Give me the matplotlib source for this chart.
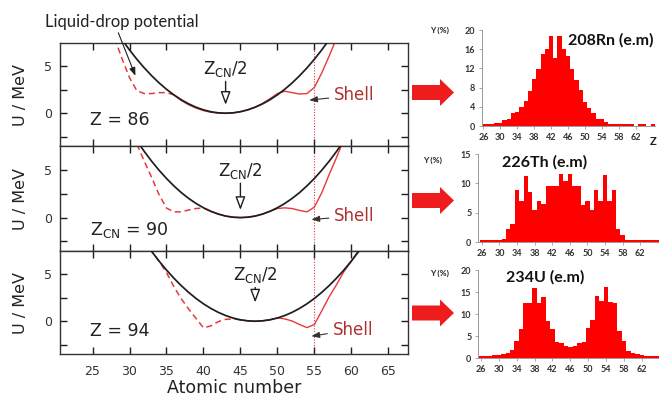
import numpy as np
import matplotlib
matplotlib.use("Agg")
import matplotlib.pyplot as plt
from matplotlib.patches import Polygon

# ---------------- data ----------------
# Liquid-drop potential (MeV) against fragment atomic number, one list per compound nucleus
z_ld86 = list(range(29, 58))
u_ld86 = [7.84, 6.76, 5.76, 4.84, 4.00, 3.24, 2.56, 1.96, 1.44, 1.00, 0.64, 0.36, 0.16, 0.04, 0.00,
          0.04, 0.16, 0.36, 0.64, 1.00, 1.44, 1.96, 2.56, 3.24, 4.00, 4.84, 5.76, 6.76, 7.84]
z_ld90 = list(range(31, 60))
u_ld90 = [8.04, 6.93, 5.90, 4.96, 4.10, 3.32, 2.62, 2.01, 1.48, 1.03, 0.66, 0.37, 0.16, 0.04, 0.00,
          0.04, 0.16, 0.37, 0.66, 1.03, 1.48, 2.01, 2.62, 3.32, 4.10, 4.96, 5.90, 6.93, 8.04]
z_ld94 = list(range(32, 63))
u_ld94 = [8.55, 7.45, 6.42, 5.47, 4.60, 3.80, 3.08, 2.43, 1.86, 1.37, 0.95, 0.61, 0.34, 0.15, 0.04, 0.00,
          0.04, 0.15, 0.34, 0.61, 0.95, 1.37, 1.86, 2.43, 3.08, 3.80, 4.60, 5.47, 6.42, 7.45, 8.55]

# Potential including shell corrections: light side (dashed) and heavy side (solid)
z_sh86_light = list(range(28, 37))
u_sh86_light = [8.0, 5.8, 3.8, 2.4, 2.1, 2.1, 2.2, 2.2, 1.96]
z_sh86_heavy = list(range(36, 59))
u_sh86_heavy = [1.96, 1.35, 0.90, 0.55, 0.28, 0.10, 0.02, 0.00, 0.04, 0.16, 0.37, 0.66, 1.05, 1.55,
                2.10, 2.35, 2.20, 2.05, 2.10, 2.75, 4.30, 6.10, 8.00]

z_sh90_light = list(range(30, 42))
u_sh90_light = [9.6, 7.7, 5.9, 4.2, 2.4, 1.0, 0.6, 0.6, 0.8, 0.95, 1.0, 0.66]
z_sh90_heavy = list(range(41, 60))
u_sh90_heavy = [0.66, 0.37, 0.16, 0.04, 0.00, 0.04, 0.16, 0.37, 0.66, 0.95, 1.02, 0.95, 0.75, 0.60,
                1.10, 2.60, 4.50, 6.30, 8.20]

z_sh94_light = list(range(32, 46))
u_sh94_light = [8.7, 7.5, 6.4, 5.2, 3.7, 2.4, 1.3, 0.3, -0.7, -0.5, -0.05, 0.2, 0.25, 0.15]
z_sh94_heavy = list(range(45, 63))
u_sh94_heavy = [0.15, 0.04, 0.00, 0.05, 0.17, 0.36, 0.25, 0.02, -0.35, -0.68, -0.35, 1.10, 2.60,
                3.90, 5.30, 6.40, 7.60, 8.60]

# Fragment charge yields (%) from electromagnetic-induced fission
z_yield = list(range(26, 67))
y_rn208 = [0.5, 0.5, 0.5, 0.6, 0.7, 1.3, 1.5, 2.8, 2.9, 3.9, 5.2, 7.2, 9.8, 11.9, 15.1, 16.1, 18.7,
           14.2, 18.7, 16.1, 14.5, 11.9, 9.6, 7.4, 4.9, 3.7, 2.8, 1.5, 1.5, 0.9, 0.5, 0.5, 0.5, 0.5,
           0.5, 0.4, 0.1, 0.5, 0.4, 0.1, 0.5]
y_th226 = [0.4, 0.4, 0.3, 0.4, 0.4, 0.5, 2.3, 3.1, 8.9, 7.0, 11.3, 8.6, 5.5, 7.0, 6.4, 9.5, 9.6,
           9.6, 11.6, 10.4, 11.6, 9.6, 9.6, 6.3, 7.0, 5.5, 8.8, 7.0, 11.4, 7.0, 8.8, 2.3, 1.2, 0.4,
           0.3, 0.3, 0.3, 0.3, 0.3, 0.3, 0.3]
y_u234 = [0.4, 0.5, 0.5, 0.6, 0.6, 0.8, 1.2, 1.8, 3.9, 6.5, 12.6, 12.4, 16.0, 12.6, 13.9, 8.5, 6.6,
          3.6, 3.3, 2.7, 2.4, 2.8, 3.4, 3.6, 6.8, 8.6, 14.0, 13.0, 16.2, 12.8, 12.6, 6.2, 3.8, 1.7,
          1.1, 0.8, 0.6, 0.5, 0.5, 0.4, 0.4]

panel_labels = ["Z = 86", r"Z$_{\mathregular{CN}}$ = 90", "Z = 94"]
half_charge = [43, 45, 47]
zcn_arrow = [(0.9, 3.4), (0.8, 3.6), (2.0, 3.6)]
shell_tip = [(54.3, 1.4), (54.6, -0.2), (54.6, -1.6)]
shell_text = [(57.7, 1.9), (57.7, 0.15), (57.5, -0.9)]
label_pos = [(24.7, -0.7), (24.7, -1.35), (24.7, -1.05)]

hist_titles = ["208Rn (e.m)", "226Th (e.m)", "234U (e.m)"]
hist_yticks = [[0, 4, 8, 12, 16, 20], [0, 5, 10, 15], [0, 5, 10, 15, 20]]
x_hist_ticks = list(range(26, 63, 4))

# ---------------- layout helpers (pixel based) ----------------
W, H = 659, 401
fig = plt.figure(figsize=(W / 100, H / 100), dpi=100)
plt.rcParams["mathtext.fontset"] = "dejavusans"


def rect(x0, y0, x1, y1):
    return [x0 / W, 1 - y1 / H, (x1 - x0) / W, (y1 - y0) / H]


def fxy(x, y):
    return x / W, 1 - y / H


BLACK = "#1e1e1e"
RED = "#e8383a"
SHELL_TXT = "#b03030"

rows = [(43, 146), (146, 251), (251, 354)]
ld = [(z_ld86, u_ld86), (z_ld90, u_ld90), (z_ld94, u_ld94)]
sh_light = [(z_sh86_light, u_sh86_light), (z_sh90_light, u_sh90_light), (z_sh94_light, u_sh94_light)]
sh_heavy = [(z_sh86_heavy, u_sh86_heavy), (z_sh90_heavy, u_sh90_heavy), (z_sh94_heavy, u_sh94_heavy)]

axes = []
for i, (top, bot) in enumerate(rows):
    ax = fig.add_axes(rect(60, top, 407.5, bot))
    axes.append(ax)
    ax.set_xlim(20.6, 67.6)
    ax.set_ylim(-3.5, 7.5)
    ax.axvline(55, color=RED, lw=0.8, ls=(0, (1, 1.5)), zorder=1)
    ax.plot(*sh_light[i], color=RED, lw=1.1, ls=(0, (4, 2.5)), zorder=2)
    ax.plot(*sh_heavy[i], color=RED, lw=1.0, zorder=2)
    ax.plot(*ld[i], color=BLACK, lw=1.25, zorder=3)

    ax.set_xticks(range(25, 70, 5))
    ax.set_yticks([-2.5, 0, 2.5, 5])
    ax.set_yticklabels(["", "0", "", "5"])
    ax.tick_params(direction="in", top=True, right=True, length=5, width=1,
                   labelsize=9, pad=6, colors=BLACK, labelcolor="#333333")
    if i < 2:
        ax.tick_params(labelbottom=False)
    else:
        ax.tick_params(axis="x", pad=8)
    for s in ax.spines.values():
        s.set_linewidth(1.0)
        s.set_color("#333333")
    ax.set_ylabel("U / MeV", fontsize=11.5, color="#222222")
    ax.yaxis.set_label_coords(-0.092, 0.5)

    lx, ly = label_pos[i]
    ax.text(lx, ly, panel_labels[i], fontsize=12.5, ha="left", va="center", color="#222222")

    zc = half_charge[i]
    tip, tail = zcn_arrow[i]
    ax.annotate("", xy=(zc, tip), xytext=(zc, tail),
                arrowprops=dict(arrowstyle="-|>,head_width=0.3,head_length=0.8", fc="white",
                                ec=BLACK, lw=1.0, shrinkA=0, shrinkB=0))
    ax.text(zc, tail + 0.25, r"Z$_{\mathregular{CN}}$/2", fontsize=12, ha="center", va="bottom",
            color="#222222")

    ax.annotate("Shell", xy=shell_tip[i], xytext=shell_text[i], fontsize=12, color=SHELL_TXT,
                ha="left", va="center",
                arrowprops=dict(arrowstyle="-|>,head_width=0.15,head_length=0.4", color="#333333",
                                lw=0.8, shrinkA=2, shrinkB=0))

axes[2].set_xlabel("Atomic number", fontsize=12.5, color="#222222", labelpad=0)
axes[2].xaxis.set_label_coords(0.5, -0.245)

# Liquid-drop label pointing at the black curve
axes[0].annotate("Liquid-drop potential", xy=(30.8, 4.0), xycoords="data",
                 xytext=fxy(45, 22), textcoords="figure fraction",
                 fontsize=12, family="Lato", ha="left", va="center", color="#222222",
                 arrowprops=dict(arrowstyle="-|>,head_width=0.15,head_length=0.4", color=BLACK,
                                 lw=0.8, shrinkA=0, shrinkB=0,
                                 relpos=(0.47, 0.0)),
                 annotation_clip=False)

# ---------------- big red arrows ----------------
for yc in (92.5, 200.5, 313):
    pts = [(412, yc - 7.5), (440, yc - 7.5), (440, yc - 13.5), (454, yc),
           (440, yc + 13.5), (440, yc + 7.5), (412, yc + 7.5)]
    fig.patches.append(Polygon([fxy(*p) for p in pts], closed=True, transform=fig.transFigure,
                               facecolor="#ee1c1c", edgecolor="none", figure=fig))

# ---------------- yield histograms ----------------
hist_specs = [
    # axes pixels, xlim, ylim, title pos, ylabel pos
    ((481.7, 30, 655.2, 126), (25.6, 66.6), 20, (611, 40), (440, 30), y_rn208),
    ((478.3, 154, 663.1, 242), (25.2, 67.2), 15, (545, 162), (433, 160), y_th226),
    ((478.3, 270, 666.0, 358), (25.4, 67.4), 20, (545, 277), (440, 273), y_u234),
]
bin_edges = np.append(np.array(z_yield) - 0.5, z_yield[-1] + 0.5)
for j, (px, xl, ytop, tpos, ylpos, yv) in enumerate(hist_specs):
    hx = fig.add_axes(rect(*px))
    hx.stairs(yv, bin_edges, fill=True, color="#ff0000", linewidth=0)
    hx.set_xlim(*xl)
    hx.set_ylim(0, ytop)
    hx.set_xticks(x_hist_ticks)
    hx.set_yticks(hist_yticks[j])
    hx.tick_params(length=2, width=0.6, colors="#999999", labelcolor="#333333", labelsize=6.5,
                   pad=3)
    for lab in hx.get_xticklabels() + hx.get_yticklabels():
        lab.set_fontweight("bold")
        lab.set_family("Lato")
    for s in ("top", "right"):
        hx.spines[s].set_visible(False)
    for s in ("left", "bottom"):
        hx.spines[s].set_color("#999999")
        hx.spines[s].set_linewidth(0.7)
    hx.patch.set_alpha(0)
    fig.text(*fxy(*tpos), hist_titles[j], fontsize=11.5, fontweight="bold", family="Lato",
             ha="center", va="center", color="#111111")
    fig.text(*fxy(*ylpos), "Y (%)", fontsize=6, fontweight="bold", family="Lato",
             ha="center", va="center", color="#222222")

fig.text(*fxy(653, 142), "Z", fontsize=8, fontweight="bold", family="Lato",
         ha="center", va="center", color="#222222")

fig.savefig("out.png", dpi=100, facecolor="white")
